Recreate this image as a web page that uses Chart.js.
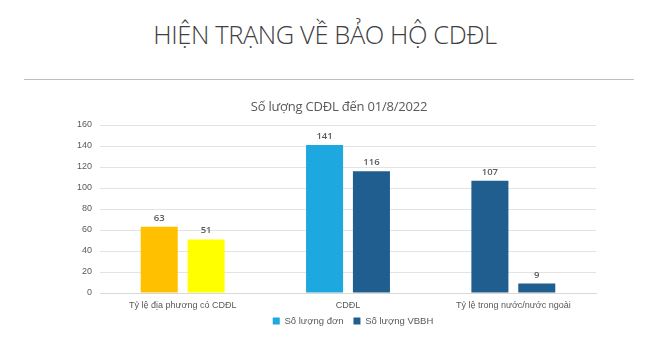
<!DOCTYPE html>
<html>
<head>
<meta charset="utf-8">
<script src="https://cdn.jsdelivr.net/npm/chart.js@4"></script>
<style>
  body { margin: 0; background: #fff; width: 650px; height: 347px; overflow: hidden; position: relative; }
  #heading { position: absolute; left: 0; top: 15px; width: 650px; text-align: center;
    font-family: "Open Sans", sans-serif; font-weight: 300; font-size: 25.5px; letter-spacing: -0.4px;
    color: #404040; line-height: 38px; }
  #rule { position: absolute; left: 24px; top: 79px; width: 610px; height: 0; border-top: 1.5px solid #bfbfbf; }
  #subtitle { position: absolute; left: 239px; top: 96px; width: 200px; text-align: center;
    font-family: "Open Sans", sans-serif; font-size: 13px; letter-spacing: -0.2px; color: #595959; line-height: 20px; }
  #wrap { position: absolute; left: 0; top: 90px; }
</style>
</head>
<body>
<div id="heading">HIỆN TRẠNG VỀ BẢO HỘ CDĐL</div>
<div id="rule"></div>
<div id="wrap"><canvas id="chart" width="650" height="257"></canvas></div>
<div id="subtitle">Số lượng CDĐL đến 01/8/2022</div>
<script>
// chart data
var categories = ['Tỷ lệ địa phương có CDĐL', 'CDĐL', 'Tỷ lệ trong nước/nước ngoài'];
var seriesNames = ['Số lượng đơn', 'Số lượng VBBH'];
var donValues = [63, 141, 107];
var vbbhValues = [51, 116, 9];
var yTicks = [0, 20, 40, 60, 80, 100, 120, 140, 160];

// colours per bar (the first group uses its own colours)
var donColors = ['#FFC000', '#1DA8E0', '#1F5E8E'];
var vbbhColors = ['#FFFF00', '#1F5E8E', '#1F5E8E'];
var legendColors = ['#1DA8E0', '#1F5E8E'];

var gray = '#595959';

// draws the value above each bar
var valueLabels = {
    id: 'valueLabels',
    afterDatasetsDraw: function(chart) {
        var ctx = chart.ctx;
        ctx.save();
        ctx.font = '600 9.5px "Open Sans", sans-serif';
        ctx.fillStyle = gray;
        ctx.textAlign = 'center';
        ctx.textBaseline = 'bottom';
        chart.data.datasets.forEach(function(ds, i) {
            chart.getDatasetMeta(i).data.forEach(function(bar, j) {
                ctx.fillText(ds.data[j], bar.x, bar.y - 4);
            });
        });
        ctx.restore();
    }
};

// move the legend up under the axis labels, a bit right of centre like the original
var placeLegend = {
    id: 'placeLegend',
    afterLayout: function(chart) {
        var lg = chart.legend;
        var h = lg.height;
        lg.top = 231 - h / 2;
        lg.bottom = lg.top + h;
        lg.left = 110;
        lg.right = 596;
        lg.width = lg.right - lg.left;
    }
};

var ctx = document.getElementById('chart').getContext('2d');
var chart = new Chart(ctx, {
    type: 'bar',
    data: {
        labels: categories,
        datasets: [{
            label: seriesNames[0],
            data: donValues,
            backgroundColor: donColors
        }, {
            label: seriesNames[1],
            data: vbbhValues,
            backgroundColor: vbbhColors
        }]
    },
    options: {
        responsive: false,
        animation: false,
        categoryPercentage: 0.567,
        barPercentage: 0.79,
        layout: { padding: { left: 0, right: 54, top: 35, bottom: 0 } },
        plugins: {
            legend: {
                position: 'bottom',
                labels: {
                    color: gray,
                    boxWidth: 7,
                    boxHeight: 7,
                    padding: 10,
                    font: { family: '"Liberation Sans", Arial, sans-serif', size: 9.5 },
                    generateLabels: function(chart) {
                        return seriesNames.map(function(name, i) {
                            return { text: name, fillStyle: legendColors[i], strokeStyle: legendColors[i],
                                     lineWidth: 0, fontColor: gray, datasetIndex: i };
                        });
                    }
                }
            },
            tooltip: { enabled: false }
        },
        scales: {
            x: {
                // x labels + legend together fill the 54px strip under the plot
                afterFit: function(scale) {
                    var lg = scale.chart.legend;
                    scale.height = 54 - (lg ? lg.height : 0);
                },
                grid: { display: false, drawTicks: false },
                border: { display: true, color: '#d9d9d9' },
                ticks: { color: gray, padding: 7,
                         font: { family: '"Liberation Sans", Arial, sans-serif', size: 9 } }
            },
            y: {
                min: 0,
                max: 160,
                afterFit: function(scale) { scale.width = 100; },
                afterBuildTicks: function(scale) {
                    scale.ticks = yTicks.map(function(v) { return { value: v }; });
                },
                grid: { color: '#e3e3e3', drawTicks: false },
                border: { display: false },
                ticks: { color: gray, padding: 8,
                         font: { family: '"Liberation Sans", Arial, sans-serif', size: 9 } }
            }
        }
    },
    plugins: [valueLabels, placeLegend]
});
</script>
</body>
</html>
